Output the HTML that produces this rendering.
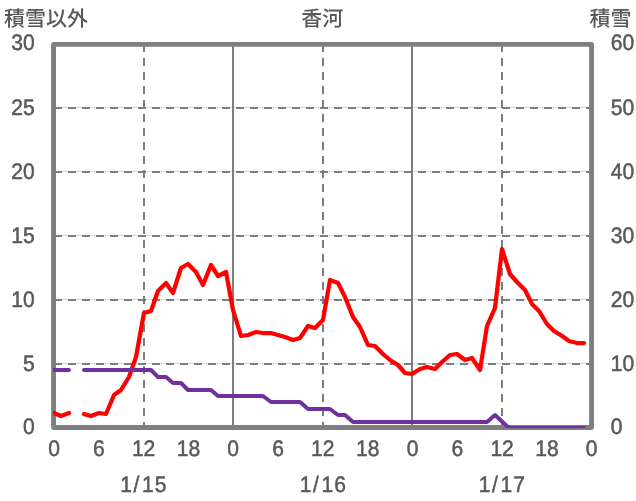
<!DOCTYPE html>
<html lang="ja">
<head>
<meta charset="utf-8">
<title>香河</title>
<style>
html,body{margin:0;padding:0;background:#fff;}
body{width:636px;height:501px;overflow:hidden;}
svg{display:block;}
text{font-family:"Liberation Sans", "Noto Sans CJK JP", sans-serif;fill:#595959;text-rendering:geometricPrecision;}
.n{stroke:#595959;stroke-width:0.5px;}
.n{font-size:22.4px;}
.j{font-size:21px;font-weight:500;}
</style>
</head>
<body>
<svg width="636" height="501" viewBox="0 0 636 501">
<rect x="0" y="0" width="636" height="501" fill="#ffffff"/>
<defs><clipPath id="plot"><rect x="53" y="40" width="541" height="388"/></clipPath></defs>
<g>
<rect x="56" y="363" width="533" height="1" fill="#dadada"/>
<rect x="56" y="299" width="533" height="1" fill="#dadada"/>
<rect x="56" y="235" width="533" height="1" fill="#dadada"/>
<rect x="56" y="171" width="533" height="1" fill="#dadada"/>
<rect x="56" y="107" width="533" height="1" fill="#dadada"/>
</g>
<g stroke="#7d7d7d" stroke-width="2" fill="none">
<line x1="54" y1="364.0" x2="591" y2="364.0" stroke-dasharray="8 6"/>
<line x1="54" y1="300.0" x2="591" y2="300.0" stroke-dasharray="8 6"/>
<line x1="54" y1="236.0" x2="591" y2="236.0" stroke-dasharray="8 6"/>
<line x1="54" y1="172.0" x2="591" y2="172.0" stroke-dasharray="8 6"/>
<line x1="54" y1="108.0" x2="591" y2="108.0" stroke-dasharray="8 6"/>
<line x1="144" y1="44" x2="144" y2="428" stroke-dasharray="8 6"/>
<line x1="233" y1="44" x2="233" y2="428"/>
<line x1="323" y1="44" x2="323" y2="428" stroke-dasharray="8 6"/>
<line x1="412" y1="44" x2="412" y2="428"/>
<line x1="502" y1="44" x2="502" y2="428" stroke-dasharray="8 6"/>
</g>
<path fill="#7f7f7f" fill-rule="evenodd" d="M53.5 42 H591.6 Q594 42 594 44.4 V427.5 Q594 429.9 591.6 429.9 H53.5 Q51.1 429.9 51.1 427.5 V44.4 Q51.1 42 53.5 42 Z M56 46.85 V425 H589.1 V46.85 Z"/>
<g clip-path="url(#plot)" fill="none" stroke-linecap="round" stroke-linejoin="round">
<path d="M54.0 413.0 L61.0 416.0 L69.0 413.0 M84.0 414.0 L91.0 416.0 L99.0 413.0 L106.0 414.0 L114.0 395.0 L121.0 390.0 L129.0 377.0 L136.0 357.0 L144.0 313.0 L151.0 311.0 L158.0 291.0 L166.0 283.0 L173.0 293.0 L181.0 268.0 L188.0 264.0 L196.0 272.0 L203.0 285.0 L211.0 265.0 L218.0 276.0 L226.0 272.0 L233.0 310.0 L241.0 336.0 L248.0 335.0 L256.0 332.0 L263.0 333.0 L271.0 333.0 L278.0 335.0 L285.0 337.0 L293.0 340.0 L300.0 338.0 L308.0 326.0 L315.0 328.0 L323.0 320.0 L330.0 280.0 L338.0 283.0 L345.0 297.0 L353.0 317.0 L360.0 327.0 L368.0 345.0 L375.0 346.0 L383.0 354.0 L390.0 360.0 L398.0 365.0 L405.0 373.0 L412.0 374.0 L420.0 369.0 L427.0 367.0 L435.0 369.0 L442.0 362.0 L450.0 355.0 L457.0 354.0 L465.0 360.0 L472.0 358.0 L480.0 370.0 L487.0 326.0 L495.0 308.0 L502.0 249.0 L510.0 274.0 L517.0 282.0 L525.0 290.0 L532.0 304.0 L539.0 311.0 L547.0 324.0 L554.0 331.0 L562.0 336.0 L569.0 341.0 L577.0 343.0 L584.0 343.0" stroke="#ff0000" stroke-width="4.25"/>
<path d="M54.0 370.0 L61.0 370.0 L69.0 370.0 M84.0 370.0 L91.0 370.0 L99.0 370.0 L106.0 370.0 L114.0 370.0 L121.0 370.0 L129.0 370.0 L136.0 370.0 L144.0 370.0 L151.0 370.0 L158.0 377.0 L166.0 377.0 L173.0 383.0 L181.0 383.0 L188.0 390.0 L196.0 390.0 L203.0 390.0 L211.0 390.0 L218.0 396.0 L226.0 396.0 L233.0 396.0 L241.0 396.0 L248.0 396.0 L256.0 396.0 L263.0 396.0 L271.0 402.0 L278.0 402.0 L285.0 402.0 L293.0 402.0 L300.0 402.0 L308.0 409.0 L315.0 409.0 L323.0 409.0 L330.0 409.0 L338.0 415.0 L345.0 415.0 L353.0 422.0 L360.0 422.0 L368.0 422.0 L375.0 422.0 L383.0 422.0 L390.0 422.0 L398.0 422.0 L405.0 422.0 L412.0 422.0 L420.0 422.0 L427.0 422.0 L435.0 422.0 L442.0 422.0 L450.0 422.0 L457.0 422.0 L465.0 422.0 L472.0 422.0 L480.0 422.0 L487.0 422.0 L495.0 415.0 L509.0 428.0 L517.0 428.0 L525.0 428.0 L532.0 428.0 L539.0 428.0 L547.0 428.0 L554.0 428.0 L562.0 428.0 L569.0 428.0 L577.0 428.0 L584.0 428.0" stroke="#7030a0" stroke-width="4"/>
</g>
<text class="j" x="4" y="25.8">積雪以外</text>
<text class="j" x="322.3" y="25.8" text-anchor="middle">香河</text>
<text class="j" x="631.5" y="25.8" text-anchor="end">積雪</text>
<text class="n" transform="translate(34.7 434.4) scale(0.940 1)" text-anchor="end">0</text>
<text class="n" transform="translate(610.7 434.4) scale(0.940 1)">0</text>
<text class="n" transform="translate(34.7 370.8) scale(0.940 1)" text-anchor="end">5</text>
<text class="n" transform="translate(610.7 370.8) scale(0.940 1)">10</text>
<text class="n" transform="translate(34.7 307.0) scale(0.940 1)" text-anchor="end">10</text>
<text class="n" transform="translate(610.7 307.0) scale(0.940 1)">20</text>
<text class="n" transform="translate(34.7 242.8) scale(0.940 1)" text-anchor="end">15</text>
<text class="n" transform="translate(610.7 242.8) scale(0.940 1)">30</text>
<text class="n" transform="translate(34.7 178.8) scale(0.940 1)" text-anchor="end">20</text>
<text class="n" transform="translate(610.7 178.8) scale(0.940 1)">40</text>
<text class="n" transform="translate(34.7 114.8) scale(0.940 1)" text-anchor="end">25</text>
<text class="n" transform="translate(610.7 114.8) scale(0.940 1)">50</text>
<text class="n" transform="translate(34.7 50.3) scale(0.940 1)" text-anchor="end">30</text>
<text class="n" transform="translate(610.7 50.3) scale(0.940 1)">60</text>
<text class="n" transform="translate(54.0 455.6) scale(0.940 1)" text-anchor="middle">0</text>
<text class="n" transform="translate(98.8 455.6) scale(0.940 1)" text-anchor="middle">6</text>
<text class="n" transform="translate(143.6 455.6) scale(0.940 1)" text-anchor="middle">12</text>
<text class="n" transform="translate(188.4 455.6) scale(0.940 1)" text-anchor="middle">18</text>
<text class="n" transform="translate(233.2 455.6) scale(0.940 1)" text-anchor="middle">0</text>
<text class="n" transform="translate(278.0 455.6) scale(0.940 1)" text-anchor="middle">6</text>
<text class="n" transform="translate(322.8 455.6) scale(0.940 1)" text-anchor="middle">12</text>
<text class="n" transform="translate(367.7 455.6) scale(0.940 1)" text-anchor="middle">18</text>
<text class="n" transform="translate(412.5 455.6) scale(0.940 1)" text-anchor="middle">0</text>
<text class="n" transform="translate(457.3 455.6) scale(0.940 1)" text-anchor="middle">6</text>
<text class="n" transform="translate(502.1 455.6) scale(0.940 1)" text-anchor="middle">12</text>
<text class="n" transform="translate(546.9 455.6) scale(0.940 1)" text-anchor="middle">18</text>
<text class="n" transform="translate(591.7 455.6) scale(0.940 1)" text-anchor="middle">0</text>
<text class="n" transform="translate(144.2 491.7) scale(0.940 1)" text-anchor="middle" letter-spacing="1.75" dx="0 0 1 -0.6">1/15</text>
<text class="n" transform="translate(323.6 491.7) scale(0.940 1)" text-anchor="middle" letter-spacing="1.75" dx="0 0 1 -0.6">1/16</text>
<text class="n" transform="translate(502.6 491.7) scale(0.940 1)" text-anchor="middle" letter-spacing="1.75" dx="0 0 1 -0.6">1/17</text>
</svg>
</body>
</html>
